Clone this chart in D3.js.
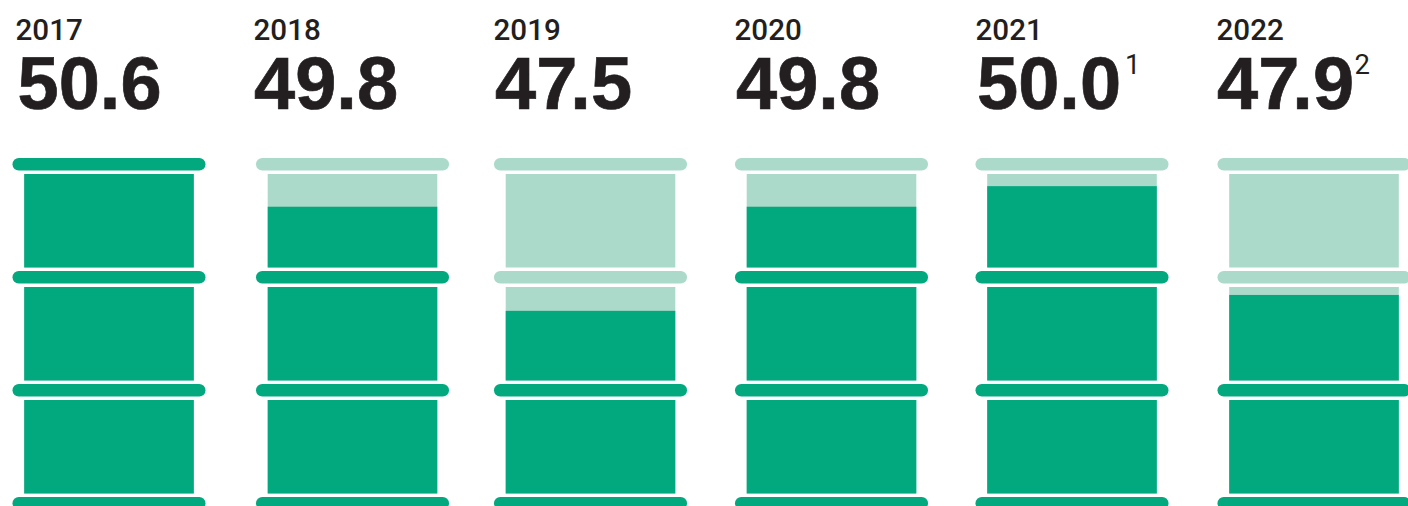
<!DOCTYPE html>
<html>
<head>
<meta charset="utf-8">
<style>
  html, body { margin: 0; padding: 0; background: #fff; overflow: hidden; }
  svg { display: block; }
  text { fill: #231f20; }
  .year { font: 500 29.6px Roboto, "Liberation Sans", sans-serif; }
  .value { font: 700 74px "Liberation Sans", Arial, sans-serif; stroke: #231f20; stroke-width: 0.7px; }
  .note { font: 400 27.5px Roboto, "Liberation Sans", sans-serif; stroke: none; }
</style>
<script src="https://cdn.jsdelivr.net/npm/d3@7/dist/d3.min.js"></script>
</head>
<body>
<svg id="chart" width="1408" height="506"></svg>
<script>
// Annual volumes, each shown as a stack of three oil barrels.
const years = ["2017", "2018", "2019", "2020", "2021", "2022"];
const values = [50.6, 49.8, 47.5, 49.8, 50.0, 47.9];
const footnotes = ["", "", "", "", "1", "2"];

// How many barrel sections each published value fills.
const levelValues = [47.5, 47.9, 49.8, 50.0, 50.6];
const levelSections = [1.745, 1.915, 2.65, 2.87, 3];

const GREEN = "#02a87e";
const PALE = "#abdaca";
const SECTIONS = 3;
const HOOP_W = 193, HOOP_H = 12.5, STAVE_W = 169.6, STAVE_H = 93.5;
const STAVE_GAP = 4;

const svg = d3.select("#chart");

const barrelLeft = d3.scaleOrdinal().domain(years).range([12.5, 256, 494, 735, 975.5, 1217.5]);
const yearLeft = d3.scaleOrdinal().domain(years).range([15.5, 253.5, 493.5, 734.5, 975.5, 1216.5]);
const valueLeft = d3.scaleOrdinal().domain(years).range([17.5, 254, 495, 736, 977, 1217]);
const noteGap = d3.scaleOrdinal().domain(footnotes).range([0, 4, 0.5]);
const hoopTop = d3.scaleLinear().domain([SECTIONS, 0]).range([158, 497]);
const sectionsFilled = d3.scaleLinear().domain(levelValues).range(levelSections);

const rows = years.map((year, i) => ({
  year, value: values[i], note: footnotes[i], level: sectionsFilled(values[i])
}));

const columns = svg.selectAll("g.barrel")
  .data(rows)
  .join("g")
  .attr("class", "barrel")
  .attr("transform", d => `translate(${barrelLeft(d.year)},0)`);

// Hoops: index 0 is the bottom rim, index 3 the top rim.
columns.selectAll("rect.hoop")
  .data(d => d3.range(SECTIONS + 1).map(k => ({ k, on: d.level >= k })))
  .join("rect")
  .attr("class", "hoop")
  .attr("width", HOOP_W)
  .attr("height", HOOP_H)
  .attr("rx", HOOP_H / 2)
  .attr("y", d => hoopTop(d.k))
  .attr("fill", d => d.on ? GREEN : PALE);

// Sections between hoops: pale base plus the filled share on top of it.
const sections = columns.selectAll("g.section")
  .data(d => d3.range(SECTIONS).map(k => ({
    k, share: Math.max(0, Math.min(1, d.level - k))
  })))
  .join("g")
  .attr("class", "section")
  .attr("transform", d => `translate(${(HOOP_W - STAVE_W) / 2},${hoopTop(d.k + 1) + HOOP_H + STAVE_GAP - 0.5})`);

sections.append("rect")
  .attr("width", STAVE_W)
  .attr("height", STAVE_H)
  .attr("fill", PALE);

sections.append("rect")
  .attr("width", STAVE_W)
  .attr("y", d => STAVE_H * (1 - d.share))
  .attr("height", d => STAVE_H * d.share)
  .attr("fill", GREEN);

// Year and headline value above each barrel.
svg.selectAll("text.year")
  .data(rows)
  .join("text")
  .attr("class", "year")
  .attr("x", d => yearLeft(d.year))
  .attr("y", 40)
  .text(d => d.year);

// The 7 tucks in over the full stop that follows it.
const kerning = label => Array.from(label, (c, i) => label[i - 1] === "7" ? -7 : 0).join(" ");

const valueText = svg.selectAll("text.value")
  .data(rows)
  .join("text")
  .attr("class", "value")
  .attr("x", d => valueLeft(d.year))
  .attr("y", 109)
  .attr("dx", d => kerning(d.value.toFixed(1)))
  .text(d => d.value.toFixed(1));

valueText.filter(d => d.note)
  .append("tspan")
  .attr("class", "note")
  .attr("dx", d => noteGap(d.note))
  .attr("dy", -35)
  .text(d => d.note);
</script>
</body>
</html>
